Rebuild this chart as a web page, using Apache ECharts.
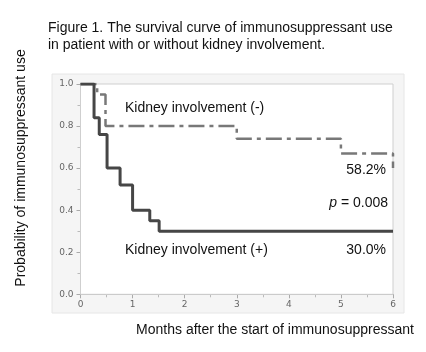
<!DOCTYPE html>
<html><head><meta charset="utf-8">
<script src="https://cdn.jsdelivr.net/npm/echarts@6/dist/echarts.min.js"></script>
<style>html,body{margin:0;padding:0;background:#fff}#c{width:426px;height:352px}</style>
</head><body><div id="c"></div>
<script>
// Kidney involvement (+): [months, survival probability]
const kidneyPos = [[0,1.0],[0.26,0.84],[0.36,0.76],[0.51,0.60],[0.76,0.52],[1.0,0.40],[1.33,0.35],[1.51,0.30],[6,0.30]];
// Kidney involvement (-)
const kidneyNeg = [[0,1.0],[0.32,0.95],[0.48,0.80],[3.0,0.74],[5.0,0.67],[6,0.60]];
const xTicks = [0,1,2,3,4,5,6];
const yTicks = ['0.0','0.2','0.4','0.6','0.8','1.0'];
const titleLines = ['Figure 1. The survival curve of immunosuppressant use','in patient with or without kidney involvement.'];
const yName = 'Probability of immunosuppressant use';
const xName = 'Months after the start of immunosuppressant';
const labelNeg = 'Kidney involvement (-)';
const labelPos = 'Kidney involvement (+)';
const pctNeg = '58.2%';
const pctPos = '30.0%';

const chart = echarts.init(document.getElementById('c'));
const font = 'Liberation Sans, Arial, sans-serif';
chart.setOption({
  animation:false,
  backgroundColor:'#fff',
  grid:{left:80.5,right:33,top:84,bottom:57.7,show:true,backgroundColor:'#fff',borderColor:'#cfcfcf',borderWidth:1,z:1},
  graphic:[
    {type:'rect',shape:{x:52,y:74,width:352,height:239},style:{fill:'#f5f5f5',stroke:'#e6e6e6'},z:-10,silent:true},
    {type:'text',left:48,top:20,style:{text:titleLines.join('\n'),font:'14px '+font,fill:'#111',lineHeight:17}},
    {type:'text',x:21,y:168,rotation:Math.PI/2,style:{text:yName,font:'14px '+font,fill:'#111',align:'center',verticalAlign:'middle'}},
    {type:'text',x:275,y:330,style:{text:xName,font:'14px '+font,fill:'#111',align:'center',verticalAlign:'middle'}},
    {type:'text',x:125,y:108,z:10,style:{text:labelNeg,font:'14px '+font,fill:'#111',verticalAlign:'middle'}},
    {type:'text',x:386,y:170,z:10,style:{text:pctNeg,font:'14px '+font,fill:'#111',align:'right',verticalAlign:'middle'}},
    {type:'text',x:388,y:203,z:10,style:{rich:{i:{font:'italic 14px '+font,fill:'#111'},n:{font:'14px '+font,fill:'#111'}},text:'{i|p}{n| = 0.008}',align:'right',verticalAlign:'middle'}},
    {type:'text',x:125,y:250,z:10,style:{text:labelPos,font:'14px '+font,fill:'#111',verticalAlign:'middle'}},
    {type:'text',x:386,y:250,z:10,style:{text:pctPos,font:'14px '+font,fill:'#111',align:'right',verticalAlign:'middle'}}
  ],
  xAxis:{type:'value',min:0,max:6,interval:1,
    axisLine:{show:true,lineStyle:{color:'#aaa',width:1}},
    axisTick:{show:true,length:4,lineStyle:{color:'#aaa'}},
    minorTick:{show:true,splitNumber:2,length:3,lineStyle:{color:'#bbb'}},
    splitLine:{show:false},
    axisLabel:{color:'#666',fontSize:9,fontFamily:'DejaVu Sans',margin:6,formatter:v=>String(xTicks[Math.round(v)])}},
  yAxis:{type:'value',min:0,max:1,interval:0.2,
    axisLine:{show:true,lineStyle:{color:'#aaa',width:1}},
    axisTick:{show:true,length:4,lineStyle:{color:'#aaa'}},
    minorTick:{show:true,splitNumber:2,length:3,lineStyle:{color:'#bbb'}},
    splitLine:{show:false},
    axisLabel:{color:'#666',fontSize:9,fontFamily:'DejaVu Sans',margin:7,formatter:v=>yTicks[Math.round(v*5)]}},
  series:[
    {type:'line',step:'end',data:kidneyNeg,symbol:'none',z:3,
      lineStyle:{color:'#787878',width:2.5,type:[16,5,4,5]}},
    {type:'line',step:'end',data:kidneyPos,symbol:'none',z:4,
      lineStyle:{color:'#464646',width:3}}
  ]
});
</script></body></html>
